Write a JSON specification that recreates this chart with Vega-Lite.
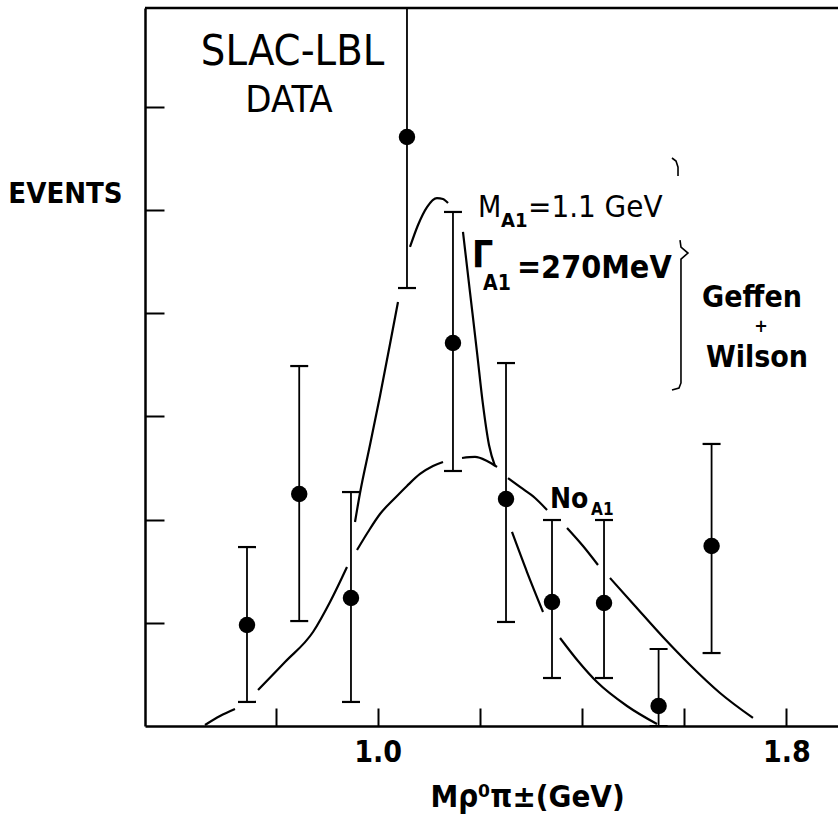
{
  "$schema": "https://vega.github.io/schema/vega-lite/v6.json",
  "width": 693,
  "height": 718,
  "autosize": {"type": "none"},
  "padding": {"left": 145, "top": 8, "right": 0, "bottom": 92},
  "background": "white",
  "config": {"view": {"stroke": null}, "axis": {"grid": false}},
  "layer": [
    {
      "data": {"values": [
        {"x": 0.7442, "y": 0.979, "lo": 0.233, "hi": 1.734},
        {"x": 0.8464, "y": 2.248, "lo": 1.017, "hi": 3.488},
        {"x": 0.9477, "y": 1.240, "lo": 0.233, "hi": 2.267},
        {"x": 1.0573, "y": 5.707, "lo": 4.244, "hi": 7.5},
        {"x": 1.1473, "y": 3.711, "lo": 2.471, "hi": 4.981},
        {"x": 1.2511, "y": 2.200, "lo": 1.008, "hi": 3.517},
        {"x": 1.3411, "y": 1.202, "lo": 0.465, "hi": 1.996},
        {"x": 1.4429, "y": 1.192, "lo": 0.465, "hi": 1.996},
        {"x": 1.5497, "y": 0.194, "lo": 0.0, "hi": 0.746},
        {"x": 1.6534, "y": 1.744, "lo": 0.707, "hi": 2.733}
      ]},
      "layer": [
        {
          "mark": {"type": "rule", "color": "black", "strokeWidth": 1.8, "clip": true},
          "encoding": {
            "x": {"field": "x", "type": "quantitative", "scale": {"domain": [0.5446, 1.9008], "nice": false, "zero": false},
              "axis": {"values": [0.8, 1, 1.2, 1.4, 1.6, 1.8], "tickSize": -18, "tickWidth": 2, "tickColor": "black", "domainColor": "black", "domainWidth": 2.5,
                "labelExpr": "abs(datum.value-1)<0.01 ? '1.0' : (abs(datum.value-1.8)<0.01 ? '1.8' : '')",
                "labelFont": "DejaVu Sans Condensed, DejaVu Sans, sans-serif", "labelFontSize": 30, "labelFontWeight": "bold", "labelColor": "black", "labelPadding": 29, "labelBaseline": "top", "labelFlush": false, "labelOverlap": false,
                "title": "Mρ⁰π±(GeV)", "titleFont": "DejaVu Sans Condensed, DejaVu Sans, sans-serif", "titleFontSize": 31, "titleFontWeight": "bold", "titleColor": "black", "titleX": 382, "titleY": 80, "titleBaseline": "alphabetic", "titleAlign": "center"}},
            "y": {"field": "lo", "type": "quantitative", "scale": {"domain": [0, 6.9574], "nice": false, "zero": false},
              "axis": {"values": [1, 2, 3, 4, 5, 6], "tickSize": -19, "tickWidth": 2, "tickColor": "black", "domainColor": "black", "domainWidth": 2.5, "labels": false,
                "title": "EVENTS", "titleAngle": 0, "titleX": -80, "titleY": 185, "titleAlign": "center", "titleBaseline": "middle",
                "titleFont": "DejaVu Sans Condensed, DejaVu Sans, sans-serif", "titleFontSize": 29, "titleFontWeight": "bold", "titleColor": "black"}},
            "y2": {"field": "hi"}
          }
        },
        {
          "mark": {"type": "tick", "orient": "horizontal", "size": 18, "thickness": 2.2, "color": "black", "clip": true, "opacity": 1},
          "encoding": {
            "x": {"field": "x", "type": "quantitative", "scale": {"domain": [0.5446, 1.9008], "nice": false, "zero": false}},
            "y": {"field": "lo", "type": "quantitative", "scale": {"domain": [0, 6.9574], "nice": false, "zero": false}}
          }
        },
        {
          "mark": {"type": "tick", "orient": "horizontal", "size": 18, "thickness": 2.2, "color": "black", "clip": true, "opacity": 1},
          "encoding": {
            "x": {"field": "x", "type": "quantitative", "scale": {"domain": [0.5446, 1.9008], "nice": false, "zero": false}},
            "y": {"field": "hi", "type": "quantitative", "scale": {"domain": [0, 6.9574], "nice": false, "zero": false}}
          }
        },
        {
          "mark": {"type": "circle", "size": 270, "color": "black", "opacity": 1},
          "encoding": {
            "x": {"field": "x", "type": "quantitative", "scale": {"domain": [0.5446, 1.9008], "nice": false, "zero": false}},
            "y": {"field": "y", "type": "quantitative", "scale": {"domain": [0, 6.9574], "nice": false, "zero": false}}
          }
        }
      ]
    },
    {
      "data": {"values": [
        {"seg": "n1", "x": 0.6620, "y": 0.010}, {"seg": "n1", "x": 0.6914, "y": 0.097}, {"seg": "n1", "x": 0.7207, "y": 0.165},
        {"seg": "n2", "x": 0.7658, "y": 0.349}, {"seg": "n2", "x": 0.8186, "y": 0.620}, {"seg": "n2", "x": 0.8734, "y": 0.911}, {"seg": "n2", "x": 0.9067, "y": 1.202}, {"seg": "n2", "x": 0.9399, "y": 1.541},
        {"seg": "n3", "x": 0.9595, "y": 1.705}, {"seg": "n3", "x": 0.9810, "y": 1.880}, {"seg": "n3", "x": 1.0045, "y": 2.054}, {"seg": "n3", "x": 1.0339, "y": 2.209}, {"seg": "n3", "x": 1.0573, "y": 2.326}, {"seg": "n3", "x": 1.0828, "y": 2.442}, {"seg": "n3", "x": 1.1082, "y": 2.519}, {"seg": "n3", "x": 1.1278, "y": 2.558},
        {"seg": "n4", "x": 1.1650, "y": 2.597}, {"seg": "n4", "x": 1.1904, "y": 2.607}, {"seg": "n4", "x": 1.2139, "y": 2.568}, {"seg": "n4", "x": 1.2335, "y": 2.510},
        {"seg": "n5", "x": 1.2550, "y": 2.403}, {"seg": "n5", "x": 1.2785, "y": 2.316}, {"seg": "n5", "x": 1.3079, "y": 2.209}, {"seg": "n5", "x": 1.3314, "y": 2.093},
        {"seg": "n6", "x": 1.3705, "y": 1.919}, {"seg": "n6", "x": 1.4018, "y": 1.744}, {"seg": "n6", "x": 1.4311, "y": 1.560},
        {"seg": "n7", "x": 1.4546, "y": 1.434}, {"seg": "n7", "x": 1.5036, "y": 1.163}, {"seg": "n7", "x": 1.5583, "y": 0.862}, {"seg": "n7", "x": 1.6112, "y": 0.591}, {"seg": "n7", "x": 1.6699, "y": 0.320}, {"seg": "n7", "x": 1.7344, "y": 0.078},
        {"seg": "a1", "x": 0.9556, "y": 1.977}, {"seg": "a1", "x": 0.9654, "y": 2.258}, {"seg": "a1", "x": 0.9849, "y": 2.723}, {"seg": "a1", "x": 1.0045, "y": 3.198}, {"seg": "a1", "x": 1.0241, "y": 3.702}, {"seg": "a1", "x": 1.0397, "y": 4.109},
        {"seg": "a2", "x": 1.0632, "y": 4.642}, {"seg": "a2", "x": 1.0789, "y": 4.855}, {"seg": "a2", "x": 1.0965, "y": 5.029}, {"seg": "a2", "x": 1.1160, "y": 5.116}, {"seg": "a2", "x": 1.1278, "y": 5.107}, {"seg": "a2", "x": 1.1376, "y": 5.068},
        {"seg": "a3", "x": 1.1669, "y": 4.787}, {"seg": "a3", "x": 1.1806, "y": 4.205}, {"seg": "a3", "x": 1.1943, "y": 3.624}, {"seg": "a3", "x": 1.2061, "y": 3.111}, {"seg": "a3", "x": 1.2178, "y": 2.723}, {"seg": "a3", "x": 1.2296, "y": 2.519},
        {"seg": "a4", "x": 1.2628, "y": 1.880}, {"seg": "a4", "x": 1.2922, "y": 1.492}, {"seg": "a4", "x": 1.3235, "y": 1.105},
        {"seg": "a5", "x": 1.3568, "y": 0.853}, {"seg": "a5", "x": 1.3920, "y": 0.630}, {"seg": "a5", "x": 1.4292, "y": 0.426}, {"seg": "a5", "x": 1.4879, "y": 0.194}, {"seg": "a5", "x": 1.5466, "y": 0.019}
      ]},
      "mark": {"type": "line", "color": "black", "strokeWidth": 2.2, "interpolate": "monotone"},
      "encoding": {
        "x": {"field": "x", "type": "quantitative", "scale": {"domain": [0.5446, 1.9008], "nice": false, "zero": false}},
        "y": {"field": "y", "type": "quantitative", "scale": {"domain": [0, 6.9574], "nice": false, "zero": false}},
        "detail": {"field": "seg", "type": "nominal"}
      }
    },
    {
      "data": {"values": [
        {"seg": "b1", "i": 1, "x": 1.5759, "y": 5.504}, {"seg": "b1", "i": 2, "x": 1.5838, "y": 5.475}, {"seg": "b1", "i": 3, "x": 1.5877, "y": 5.415}, {"seg": "b1", "i": 4, "x": 1.5877, "y": 5.329},
        {"seg": "b2", "i": 1, "x": 1.5916, "y": 4.709}, {"seg": "b2", "i": 2, "x": 1.5935, "y": 4.641}, {"seg": "b2", "i": 3, "x": 1.6072, "y": 4.583}, {"seg": "b2", "i": 4, "x": 1.5935, "y": 4.525}, {"seg": "b2", "i": 5, "x": 1.5935, "y": 3.324}, {"seg": "b2", "i": 6, "x": 1.5896, "y": 3.275}, {"seg": "b2", "i": 7, "x": 1.5759, "y": 3.256}
      ]},
      "mark": {"type": "line", "color": "black", "strokeWidth": 1.6, "interpolate": "linear"},
      "encoding": {
        "x": {"field": "x", "type": "quantitative", "scale": {"domain": [0.5446, 1.9008], "nice": false, "zero": false}},
        "y": {"field": "y", "type": "quantitative", "scale": {"domain": [0, 6.9574], "nice": false, "zero": false}},
        "detail": {"field": "seg", "type": "nominal"},
        "order": {"field": "i", "type": "quantitative"}
      }
    },
    {
      "data": {"values": [{"x": 0.5446, "x2": 1.9008, "y": 6.9574}]},
      "mark": {"type": "rule", "color": "black", "strokeWidth": 2.5},
      "encoding": {
        "x": {"field": "x", "type": "quantitative", "scale": {"domain": [0.5446, 1.9008], "nice": false, "zero": false}},
        "x2": {"field": "x2"},
        "y": {"field": "y", "type": "quantitative", "scale": {"domain": [0, 6.9574], "nice": false, "zero": false}}
      }
    },
    {
      "data": {"values": [{"x": 0.8333, "y": 6.405, "label": "SLAC-LBL"}]},
      "mark": {"type": "text", "align": "center", "baseline": "alphabetic", "font": "DejaVu Sans Condensed, DejaVu Sans, sans-serif", "fontSize": 43, "color": "black"},
      "encoding": {
        "x": {"field": "x", "type": "quantitative", "scale": {"domain": [0.5446, 1.9008], "nice": false, "zero": false}},
        "y": {"field": "y", "type": "quantitative", "scale": {"domain": [0, 6.9574], "nice": false, "zero": false}},
        "text": {"field": "label"}
      }
    },
    {
      "data": {"values": [{"x": 0.8264, "y": 5.950, "label": "DATA"}]},
      "mark": {"type": "text", "align": "center", "baseline": "alphabetic", "font": "DejaVu Sans Condensed, DejaVu Sans, sans-serif", "fontSize": 38, "color": "black"},
      "encoding": {
        "x": {"field": "x", "type": "quantitative", "scale": {"domain": [0.5446, 1.9008], "nice": false, "zero": false}},
        "y": {"field": "y", "type": "quantitative", "scale": {"domain": [0, 6.9574], "nice": false, "zero": false}},
        "text": {"field": "label"}
      }
    },
    {
      "data": {"values": [{"x": 1.1963, "y": 4.932, "label": "M"}]},
      "mark": {"type": "text", "align": "left", "baseline": "alphabetic", "font": "DejaVu Sans Condensed, DejaVu Sans, sans-serif", "fontSize": 30, "color": "black"},
      "encoding": {
        "x": {"field": "x", "type": "quantitative", "scale": {"domain": [0.5446, 1.9008], "nice": false, "zero": false}},
        "y": {"field": "y", "type": "quantitative", "scale": {"domain": [0, 6.9574], "nice": false, "zero": false}},
        "text": {"field": "label"}
      }
    },
    {
      "data": {"values": [{"x": 1.2413, "y": 4.835, "label": "A1"}]},
      "mark": {"type": "text", "align": "left", "baseline": "alphabetic", "font": "DejaVu Sans Condensed, DejaVu Sans, sans-serif", "fontSize": 20, "fontWeight": "bold", "color": "black"},
      "encoding": {
        "x": {"field": "x", "type": "quantitative", "scale": {"domain": [0.5446, 1.9008], "nice": false, "zero": false}},
        "y": {"field": "y", "type": "quantitative", "scale": {"domain": [0, 6.9574], "nice": false, "zero": false}},
        "text": {"field": "label"}
      }
    },
    {
      "data": {"values": [{"x": 1.2942, "y": 4.932, "label": "=1.1 GeV"}]},
      "mark": {"type": "text", "align": "left", "baseline": "alphabetic", "font": "DejaVu Sans Condensed, DejaVu Sans, sans-serif", "fontSize": 31, "color": "black"},
      "encoding": {
        "x": {"field": "x", "type": "quantitative", "scale": {"domain": [0.5446, 1.9008], "nice": false, "zero": false}},
        "y": {"field": "y", "type": "quantitative", "scale": {"domain": [0, 6.9574], "nice": false, "zero": false}},
        "text": {"field": "label"}
      }
    },
    {
      "data": {"values": [{"x": 1.1845, "y": 4.448, "label": "Γ"}]},
      "mark": {"type": "text", "align": "left", "baseline": "alphabetic", "font": "DejaVu Sans Condensed, DejaVu Sans, sans-serif", "fontSize": 37, "fontWeight": "bold", "color": "black"},
      "encoding": {
        "x": {"field": "x", "type": "quantitative", "scale": {"domain": [0.5446, 1.9008], "nice": false, "zero": false}},
        "y": {"field": "y", "type": "quantitative", "scale": {"domain": [0, 6.9574], "nice": false, "zero": false}},
        "text": {"field": "label"}
      }
    },
    {
      "data": {"values": [{"x": 1.2061, "y": 4.225, "label": "A1"}]},
      "mark": {"type": "text", "align": "left", "baseline": "alphabetic", "font": "DejaVu Sans Condensed, DejaVu Sans, sans-serif", "fontSize": 21, "fontWeight": "bold", "color": "black"},
      "encoding": {
        "x": {"field": "x", "type": "quantitative", "scale": {"domain": [0.5446, 1.9008], "nice": false, "zero": false}},
        "y": {"field": "y", "type": "quantitative", "scale": {"domain": [0, 6.9574], "nice": false, "zero": false}},
        "text": {"field": "label"}
      }
    },
    {
      "data": {"values": [{"x": 1.2726, "y": 4.341, "label": "=270MeV"}]},
      "mark": {"type": "text", "align": "left", "baseline": "alphabetic", "font": "DejaVu Sans Condensed, DejaVu Sans, sans-serif", "fontSize": 32, "fontWeight": "bold", "color": "black"},
      "encoding": {
        "x": {"field": "x", "type": "quantitative", "scale": {"domain": [0.5446, 1.9008], "nice": false, "zero": false}},
        "y": {"field": "y", "type": "quantitative", "scale": {"domain": [0, 6.9574], "nice": false, "zero": false}},
        "text": {"field": "label"}
      }
    },
    {
      "data": {"values": [{"x": 1.7325, "y": 4.06, "label": "Geffen"}, {"x": 1.7423, "y": 3.479, "label": "Wilson"}]},
      "mark": {"type": "text", "align": "center", "baseline": "alphabetic", "font": "DejaVu Sans Condensed, DejaVu Sans, sans-serif", "fontSize": 30, "fontWeight": "bold", "color": "black"},
      "encoding": {
        "x": {"field": "x", "type": "quantitative", "scale": {"domain": [0.5446, 1.9008], "nice": false, "zero": false}},
        "y": {"field": "y", "type": "quantitative", "scale": {"domain": [0, 6.9574], "nice": false, "zero": false}},
        "text": {"field": "label"}
      }
    },
    {
      "data": {"values": [{"x": 1.7501, "y": 3.868, "label": "+"}]},
      "mark": {"type": "text", "align": "center", "baseline": "middle", "font": "DejaVu Sans Condensed, DejaVu Sans, sans-serif", "fontSize": 18, "fontWeight": "bold", "color": "black"},
      "encoding": {
        "x": {"field": "x", "type": "quantitative", "scale": {"domain": [0.5446, 1.9008], "nice": false, "zero": false}},
        "y": {"field": "y", "type": "quantitative", "scale": {"domain": [0, 6.9574], "nice": false, "zero": false}},
        "text": {"field": "label"}
      }
    },
    {
      "data": {"values": [{"x": 1.3372, "y": 2.112, "label": "No"}]},
      "mark": {"type": "text", "align": "left", "baseline": "alphabetic", "font": "DejaVu Sans Condensed, DejaVu Sans, sans-serif", "fontSize": 28, "fontWeight": "bold", "color": "black"},
      "encoding": {
        "x": {"field": "x", "type": "quantitative", "scale": {"domain": [0.5446, 1.9008], "nice": false, "zero": false}},
        "y": {"field": "y", "type": "quantitative", "scale": {"domain": [0, 6.9574], "nice": false, "zero": false}},
        "text": {"field": "label"}
      }
    },
    {
      "data": {"values": [{"x": 1.4175, "y": 2.045, "label": "A1"}]},
      "mark": {"type": "text", "align": "left", "baseline": "alphabetic", "font": "DejaVu Sans Condensed, DejaVu Sans, sans-serif", "fontSize": 17, "fontWeight": "bold", "color": "black"},
      "encoding": {
        "x": {"field": "x", "type": "quantitative", "scale": {"domain": [0.5446, 1.9008], "nice": false, "zero": false}},
        "y": {"field": "y", "type": "quantitative", "scale": {"domain": [0, 6.9574], "nice": false, "zero": false}},
        "text": {"field": "label"}
      }
    }
  ]
}
